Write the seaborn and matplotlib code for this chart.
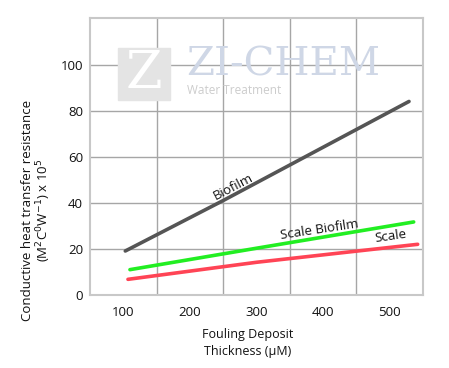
import pandas as pd
import matplotlib.pyplot as plt
import seaborn as sns
from matplotlib.patches import Rectangle

# values
biofilm_x = [103, 250, 529]
biofilm_y = [19.1, 41.0, 84.0]
scale_biofilm_x = [110, 300, 536]
scale_biofilm_y = [11.0, 20.3, 31.7]
scale_x = [107, 300, 542]
scale_y = [6.8, 14.2, 22.0]

x_ticks = [100, 200, 300, 400, 500]
y_ticks = [0, 20, 40, 60, 80, 100]

sns.set_style("white")
plt.rcParams['font.family'] = ['Open Sans', 'DejaVu Sans']

fig = plt.figure(figsize=(4.49, 3.68), dpi=100)
ax = fig.add_axes([90 / 449, 1 - 295 / 368, 333 / 449, 276.5 / 368])

# watermark
fig.patches.append(Rectangle((118 / 449, 1 - 100 / 368), 52 / 449, 52 / 368,
                             transform=fig.transFigure, color='#e4e4e4', zorder=0))
fig.text(144 / 449, 1 - 74 / 368, 'Z', fontsize=38, color='white', ha='center',
         va='center', family='DejaVu Serif', zorder=0.5)
fig.text(186 / 449, 1 - 75 / 368, 'ZI-CHEM', fontsize=29, color='#cfd7e6',
         ha='left', va='baseline', family='DejaVu Serif', zorder=0.5)
fig.text(187 / 449, 1 - 94 / 368, 'Water Treatment', fontsize=8.5, color='#cccccc',
         ha='left', va='baseline', zorder=0.5)
ax.patch.set_alpha(0)

sns.lineplot(x=biofilm_x, y=biofilm_y, ax=ax, color='#555555', linewidth=2.6)
sns.lineplot(x=scale_biofilm_x, y=scale_biofilm_y, ax=ax, color='#22ee22', linewidth=2.6)
sns.lineplot(x=scale_x, y=scale_y, ax=ax, color='#ff4455', linewidth=2.6)

ax.text(265, 47.1, 'Biofilm', rotation=27.5, rotation_mode='anchor',
        ha='center', va='center', fontsize=9.5, color='#111111')
ax.text(394, 28.3, 'Scale Biofilm', rotation=8.5, rotation_mode='anchor',
        ha='center', va='center', fontsize=9.5, color='#111111')
ax.text(502, 25.4, 'Scale', rotation=8, rotation_mode='anchor',
        ha='center', va='center', fontsize=9.5, color='#111111')

ax.set_xlim(50, 550)
ax.set_ylim(0, 120)
ax.set_xticks(x_ticks)
ax.set_xticks([150, 250, 350, 450], minor=True)
ax.set_yticks(y_ticks)
ax.tick_params(which='both', length=0, labelsize=9.5, labelcolor='#111111')
ax.tick_params(axis='y', pad=5)
ax.tick_params(axis='x', pad=8)
ax.grid(False)
ax.grid(True, which='minor', axis='x', color='#a6a6a6', linewidth=1)
ax.grid(True, which='major', axis='y', color='#a6a6a6', linewidth=1)
for s in ax.spines.values():
    s.set_visible(True)
    s.set_color('#c8c8c8')
    s.set_linewidth(1.5)

fig.text(28 / 449, 158 / 368, 'Conductive heat transfer resistance', rotation=90,
         ha='center', va='center', fontsize=9.5, color='#111111')
fig.text(44 / 449, 158 / 368, '(M$^2$C$^0$W$^{-1}$) x 10$^5$', rotation=90,
         ha='center', va='center', fontsize=9.5, color='#111111')
fig.text(248 / 449, 1 - 343 / 368, 'Fouling Deposit\nThickness (\u00b5M)',
         ha='center', va='center', fontsize=9, linespacing=1.4, color='#111111')

fig.savefig('out.png', dpi=100)
